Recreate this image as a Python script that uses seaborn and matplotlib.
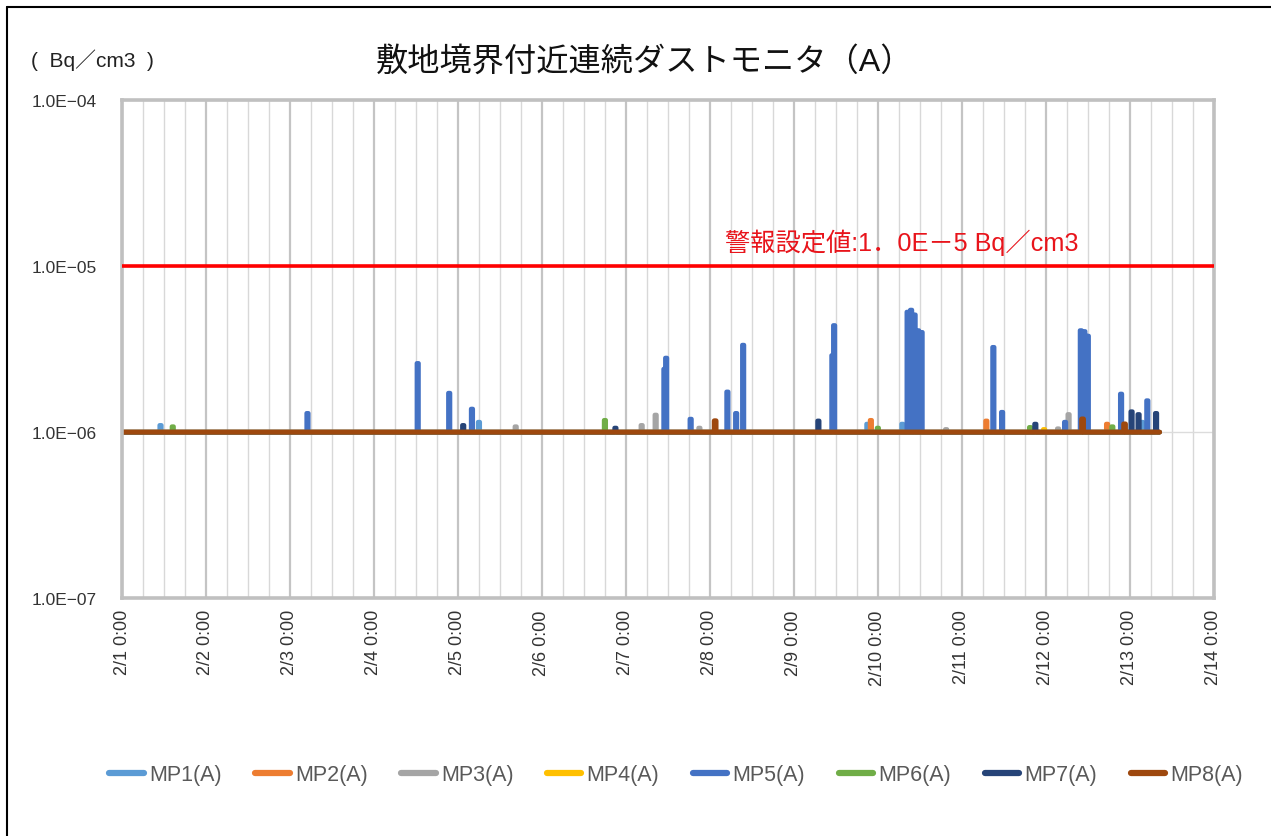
import numpy as np
import pandas as pd
import seaborn as sns
import matplotlib.pyplot as plt
import matplotlib.dates as mdates
from matplotlib.lines import Line2D
from matplotlib.ticker import FixedLocator, NullLocator, FuncFormatter

# -------- DATA --------
series_names = ["MP1(A)", "MP2(A)", "MP3(A)", "MP4(A)",
                "MP5(A)", "MP6(A)", "MP7(A)", "MP8(A)"]
series_colors = ["#5B9BD5", "#ED7D31", "#A5A5A5", "#FFC000",
                 "#4472C4", "#70AD47", "#264478", "#9E480E"]

start = pd.Timestamp("2024-02-01 00:00")
end = pd.Timestamp("2024-02-14 00:00")
last_hour = 296.5          # last measurement (hours after 2/1 0:00)
step_hour = 0.5
baseline = 1.0e-6          # readings sit at the detection level
alarm_level = 1.0e-5

# peaks: (hours after 2/1 0:00, Bq/cm3)
mp1_peaks = [(11.0, 1.10e-6), (102.0, 1.15e-6), (213.0, 1.12e-6),
             (223.0, 1.12e-6), (291.5, 1.15e-6)]
mp2_peaks = [(214.0, 1.18e-6), (247.0, 1.17e-6), (281.5, 1.12e-6)]
mp3_peaks = [(112.5, 1.08e-6), (148.5, 1.10e-6), (152.5, 1.27e-6),
             (165.0, 1.06e-6), (235.5, 1.04e-6), (267.5, 1.05e-6),
             (270.5, 1.28e-6)]
mp4_peaks = [(263.5, 1.04e-6)]
# the long MP5 episodes on 2/10 and 2/12 flicker between high and
# detection-level readings, which is what makes them look solid
mp5_peaks = [(53.0, 1.30e-6), (84.5, 2.60e-6), (93.5, 1.72e-6),
             (100.0, 1.38e-6), (155.0, 2.40e-6), (155.5, 2.80e-6),
             (162.5, 1.20e-6), (173.0, 1.75e-6), (175.5, 1.30e-6),
             (177.5, 3.35e-6), (203.0, 2.90e-6), (203.5, 4.40e-6),
             (224.5, 5.30e-6), (225.0, 1.00e-6), (225.5, 5.45e-6),
             (226.0, 1.00e-6), (226.5, 5.10e-6), (227.0, 1.00e-6),
             (227.5, 4.10e-6), (228.0, 1.00e-6), (228.5, 4.00e-6),
             (249.0, 3.25e-6), (251.5, 1.32e-6), (269.5, 1.15e-6),
             (274.0, 4.10e-6), (274.5, 1.00e-6), (275.0, 4.05e-6),
             (275.5, 1.00e-6), (276.0, 3.80e-6),
             (285.5, 1.70e-6), (293.0, 1.55e-6)]
mp6_peaks = [(14.5, 1.08e-6), (138.0, 1.18e-6), (216.0, 1.06e-6),
             (259.5, 1.07e-6), (283.0, 1.08e-6)]
mp7_peaks = [(97.5, 1.10e-6), (141.0, 1.06e-6), (199.0, 1.17e-6),
             (261.0, 1.12e-6), (288.5, 1.33e-6), (290.5, 1.28e-6),
             (295.5, 1.30e-6)]
mp8_peaks = [(169.5, 1.17e-6), (274.5, 1.20e-6), (286.5, 1.12e-6)]

all_peaks = [mp1_peaks, mp2_peaks, mp3_peaks, mp4_peaks,
             mp5_peaks, mp6_peaks, mp7_peaks, mp8_peaks]

# -------- LONG TABLE --------
hours = np.arange(0, last_hour + step_hour, step_hour)
frames = []
for name, peaks in zip(series_names, all_peaks):
    vals = np.full(len(hours), baseline)
    for h, v in peaks:
        vals[int(round(h / step_hour))] = v
    frames.append(pd.DataFrame({
        "time": start + pd.to_timedelta(hours, unit="h"),
        "value": vals,
        "series": name,
    }))
df = pd.concat(frames, ignore_index=True)

# -------- STYLE --------
sns.set_style("white")
plt.rcParams["font.family"] = ["Liberation Sans", "Noto Sans CJK JP", "DejaVu Sans"]

fig = plt.figure(figsize=(12.71, 8.37), dpi=100)
ax = fig.add_axes([0.096, 0.2843, 0.859, 0.5947])

sns.lineplot(data=df, x="time", y="value", hue="series",
             hue_order=series_names, palette=series_colors,
             estimator=None, errorbar=None, linewidth=3.2,
             drawstyle="steps-mid", legend=False, ax=ax)
# baseline of the last series a little heavier, like the source
ax.lines[-1].set_linewidth(3.6)

ax.axhline(alarm_level, color="#FF0000", lw=2.6, zorder=5)
ax.text(0.552, 0.715, "警報設定値:1．0E－5 Bq／cm3", color="#E8141B",
        fontsize=18.2, transform=ax.transAxes, ha="left", va="center")

# -------- AXES --------
ax.set_yscale("log")
ax.set_ylim(1e-7, 1e-4)
ax.yaxis.set_major_locator(FixedLocator([1e-7, 1e-6, 1e-5, 1e-4]))
ax.yaxis.set_minor_locator(NullLocator())
ax.yaxis.set_major_formatter(
    FuncFormatter(lambda v, p: "1.0E−%02d" % int(round(-np.log10(v)))))

ax.set_xlim(start, end)
ax.xaxis.set_major_locator(mdates.DayLocator())
ax.xaxis.set_minor_locator(mdates.HourLocator(byhour=[6, 12, 18]))
ax.xaxis.set_major_formatter(FuncFormatter(
    lambda v, p: "%d/%d 0:00" % (mdates.num2date(v).month,
                                  mdates.num2date(v).day)))

ax.grid(which="major", axis="x", color="#C4C4C4", lw=1.6)
ax.grid(which="minor", axis="x", color="#D8D8D8", lw=1.0)
ax.grid(which="major", axis="y", color="#DCDCDC", lw=1.0)
ax.set_axisbelow(True)

ax.tick_params(axis="x", which="both", direction="in", length=5,
               color="#C8C8C8", labelrotation=90, labelsize=13,
               labelcolor="#333333", pad=8)
ax.tick_params(axis="y", length=0, labelsize=12.5, labelcolor="#333333",
               pad=18)
for lab in ax.get_xticklabels():
    lab.set_va("top")

for sp in ax.spines.values():
    sp.set_color("#C0C0C0")
    sp.set_linewidth(2.6)

ax.set_xlabel("")
ax.set_ylabel("")

# -------- TEXT --------
fig.text(0.507, 0.926, "敷地境界付近連続ダストモニタ（A）",
         fontsize=23.2, ha="center", va="center", color="#111111")
fig.text(0.024, 0.928, "(  Bq／cm3  )", fontsize=15,
         ha="left", va="center", color="#222222")

# -------- LEGEND --------
handles = [Line2D([0], [0], color=c, lw=4.5, solid_capstyle="round")
           for c in series_colors]
fig.legend(handles, series_names, loc="center", ncol=8,
           bbox_to_anchor=(0.532, 0.073), frameon=False,
           fontsize=15.5, handlelength=1.6, handletextpad=0.25,
           columnspacing=1.55, labelcolor="#595959")

# -------- FRAME --------
fig.add_artist(Line2D([0.0055, 0.0055], [0, 0.9904],
                      transform=fig.transFigure, color="black", lw=1.5))
fig.add_artist(Line2D([0.0055, 1.0], [0.9904, 0.9904],
                      transform=fig.transFigure, color="black", lw=1.5))

fig.savefig("out.png", dpi=100)
